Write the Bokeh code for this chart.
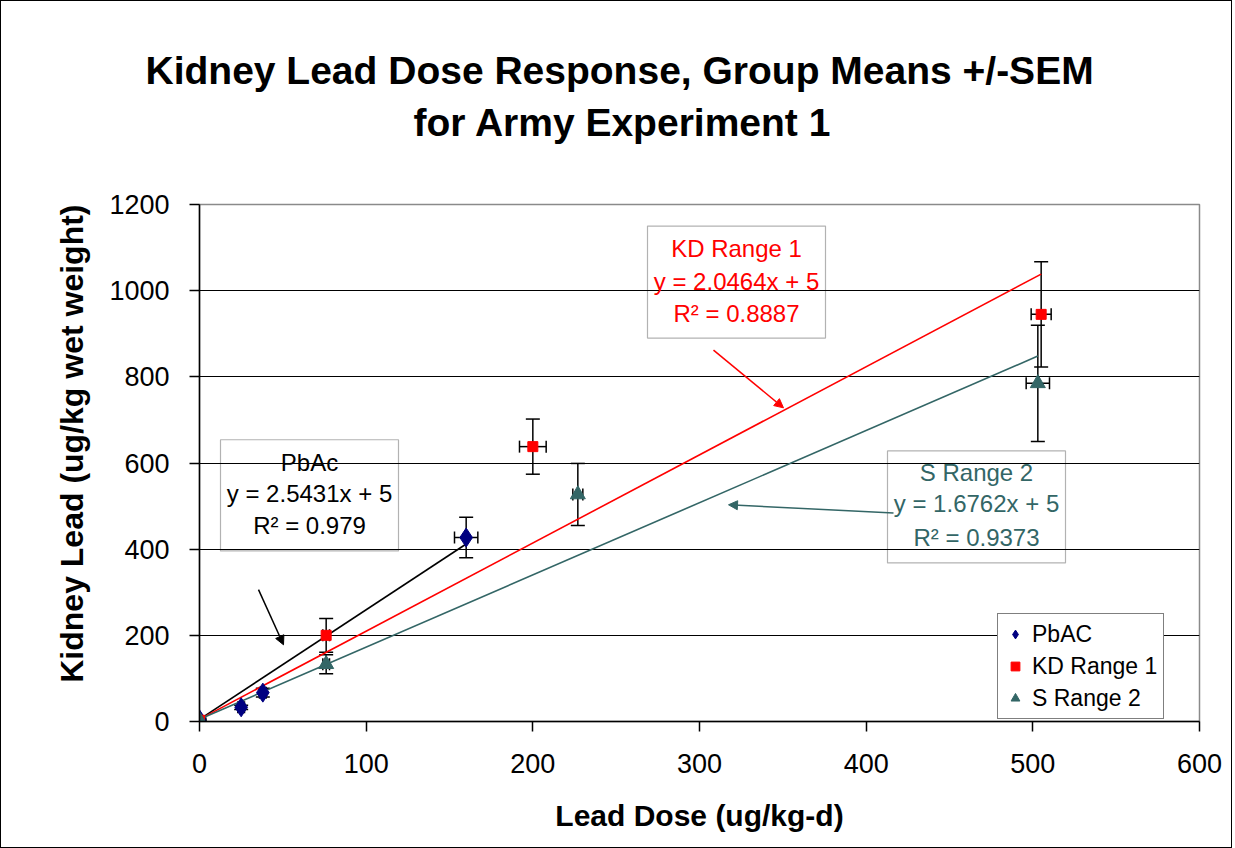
import math
from bokeh.plotting import figure
from bokeh.models import (Range1d, FixedTicker, Whisker, TeeHead, Label, Arrow, Title,
                          NormalHead, Legend, LegendItem, ColumnDataSource, BoxAnnotation)
from bokeh.embed import file_html
from bokeh.resources import INLINE

# ---------------- data ----------------
pb_x = [0, 25, 38, 160]
pb_y = [5, 33, 67, 427]
pb_yerr = [3, 5, 10, 47]
pb_xerr = [0, 2, 2, 7]

kd_x = [0, 76, 200, 505]
kd_y = [3, 200, 638, 945]
kd_yerr = [2, 39, 64, 122]
kd_xerr = [0, 2, 8, 6]

s_x = [0, 76, 227, 503]
s_y = [3, 133, 527, 785]
s_yerr = [2, 22, 72, 135]
s_xerr = [0, 2, 3, 7]

# trend lines: slope, intercept, x extent
pb_fit = (2.5431, 5, 160)
kd_fit = (2.0464, 5, 505)
s_fit = (1.6762, 5, 503)

x_ticks = [0, 100, 200, 300, 400, 500, 600]
y_ticks = [0, 200, 400, 600, 800, 1000, 1200]

title_lines = ["Kidney Lead Dose Response, Group Means +/-SEM", "for Army Experiment 1"]
x_label = "Lead Dose (ug/kg-d)"
y_label = "Kidney Lead (ug/kg wet weight)"

series_names = ["PbAC", "KD Range 1", "S Range 2"]
box_texts = {
    "pb": ["PbAc", "y = 2.5431x + 5", "R\u00b2 = 0.979"],
    "kd": ["KD Range 1", "y = 2.0464x + 5", "R\u00b2 = 0.8887"],
    "s": ["S Range 2", "y = 1.6762x + 5", "R\u00b2 = 0.9373"],
}

NAVY = "#000080"
RED = "#ff0000"
TEAL = "#336666"
FONT = "Liberation Sans"

# ---------------- figure ----------------
p = figure(width=1232, height=846, output_backend="svg", toolbar_location=None,
           x_range=Range1d(0, 600), y_range=Range1d(0, 1200),
           min_border_left=198, min_border_top=203, min_border_right=32, min_border_bottom=126,
           frame_width=1000, frame_height=517,
           background_fill_color="white", border_fill_color="white",
           styles={"border": "1px solid black"})
p.outline_line_color = "#8a8a8a"
p.outline_line_width = 1.5
p.xgrid.visible = False
p.ygrid.grid_line_color = "black"
p.ygrid.grid_line_width = 1
p.ygrid.ticker = FixedTicker(ticks=y_ticks)

for ax, ticks in ((p.xaxis[0], x_ticks), (p.yaxis[0], y_ticks)):
    ax.ticker = FixedTicker(ticks=ticks)
    ax.minor_tick_line_color = None
    ax.major_tick_in = 0
    ax.major_tick_out = 10
    ax.axis_line_color = "black"
    ax.axis_line_width = 1.5
    ax.major_tick_line_color = "black"
    ax.major_tick_line_width = 1.5
    ax.major_label_text_font = FONT
    ax.major_label_text_font_size = "27px"
    ax.major_label_text_color = "black"

p.xaxis.major_label_standoff = 22
p.yaxis.major_label_standoff = 20
p.xaxis.axis_label = x_label
p.xaxis.axis_label_text_font = FONT
p.xaxis.axis_label_text_font_style = "bold"
p.xaxis.axis_label_text_font_size = "30px"
p.xaxis.axis_label_text_color = "black"
p.xaxis.axis_label_standoff = 23

# titles: stacked upward from the frame (spacer, line 2, line 1)
p.title.visible = False
spacer = Title(text=" ", standoff=48, text_font=FONT, text_font_size="10px")
t2 = Title(text=title_lines[1], align="left", offset=214, standoff=0,
           text_font=FONT, text_font_style="bold", text_font_size="39px", text_color="black")
t1 = Title(text=title_lines[0], align="left", offset=-54, standoff=14,
           text_font=FONT, text_font_style="bold", text_font_size="39px", text_color="black")
p.add_layout(spacer, "above")
p.add_layout(t2, "above")
p.add_layout(t1, "above")

ty = Title(text=y_label, align="right", offset=0, standoff=33,
           text_font=FONT, text_font_style="bold", text_font_size="32px", text_color="black")
p.add_layout(ty, "left")

# ---------------- trend lines ----------------
for (m, b, xe), col in ((pb_fit, "black"), (kd_fit, RED), (s_fit, TEAL)):
    p.line([0, xe], [b, m * xe + b], line_color=col, line_width=1.6)

# ---------------- error bars ----------------
def add_errors(xs, ys, xerr, yerr):
    src = ColumnDataSource(dict(
        x=xs, y=ys,
        yl=[y - e for y, e in zip(ys, yerr)], yu=[y + e for y, e in zip(ys, yerr)],
        xl=[x - e for x, e in zip(xs, xerr)], xu=[x + e for x, e in zip(xs, xerr)],
    ))
    wv = Whisker(source=src, base="x", lower="yl", upper="yu", dimension="height",
                 line_color="black", line_width=1.5,
                 lower_head=TeeHead(size=14, line_width=1.5, line_color="black"),
                 upper_head=TeeHead(size=14, line_width=1.5, line_color="black"))
    wh = Whisker(source=src, base="y", lower="xl", upper="xu", dimension="width",
                 line_color="black", line_width=1.5,
                 lower_head=TeeHead(size=12, line_width=1.5, line_color="black"),
                 upper_head=TeeHead(size=12, line_width=1.5, line_color="black"))
    p.add_layout(wv)
    p.add_layout(wh)

add_errors(pb_x, pb_y, pb_xerr, pb_yerr)
add_errors(kd_x, kd_y, kd_xerr, kd_yerr)
add_errors(s_x, s_y, s_xerr, s_yerr)

# ---------------- markers ----------------
r_pb = p.scatter(pb_x, pb_y, marker="diamond", size=19, fill_color=NAVY, line_color=NAVY)
r_kd = p.scatter(kd_x, kd_y, marker="square", size=10, fill_color=RED, line_color=RED)
r_s = p.scatter(s_x, s_y, marker="triangle", size=15, fill_color=TEAL, line_color=TEAL)

# ---------------- annotation boxes ----------------
boxes = [
    ("pb", (12.6, 119.4, 654, 396), 66, [602, 530, 456], "black"),
    ("kd", (268.8, 375.6, 1150, 890), 322.2, [1098, 1022, 946], RED),
    ("s", (412.8, 519.6, 628, 368), 466.2, [579, 507, 428], TEAL),
]
for key, (l, r, t, bt), cx, ys, col in boxes:
    p.add_layout(BoxAnnotation(left=l, right=r, top=t, bottom=bt, fill_alpha=0,
                               line_color="black", line_width=1.2, level="annotation"))
    for txt, yy in zip(box_texts[key], ys):
        p.add_layout(Label(x=cx, y=yy, text=txt, text_align="center", text_baseline="middle",
                           text_font=FONT, text_font_size="24px", text_color=col))

# ---------------- arrows ----------------
arrows = [
    ((35.4, 306), (50.4, 178), "black"),
    ((308.4, 862), (350.4, 728), RED),
    ((416.4, 484), (317.4, 503), TEAL),
]
for (x0, y0), (x1, y1), col in arrows:
    p.add_layout(Arrow(x_start=x0, y_start=y0, x_end=x1, y_end=y1, line_color=col, line_width=1.5,
                       end=NormalHead(size=9, fill_color=col, line_color=col)))

# ---------------- legend ----------------
legend = Legend(items=[LegendItem(label=n, renderers=[r]) for n, r in zip(series_names, [r_pb, r_kd, r_s])],
                location=(798, 2), orientation="vertical",
                label_text_font=FONT, label_text_font_size="23px", label_text_color="black",
                border_line_color="black", border_line_width=1.2,
                background_fill_color="white", background_fill_alpha=1,
                padding=6, spacing=4, margin=0, glyph_width=22, glyph_height=24,
                label_standoff=6, label_height=28)
p.add_layout(legend)

open("out.html", "w").write(file_html(p, INLINE))
